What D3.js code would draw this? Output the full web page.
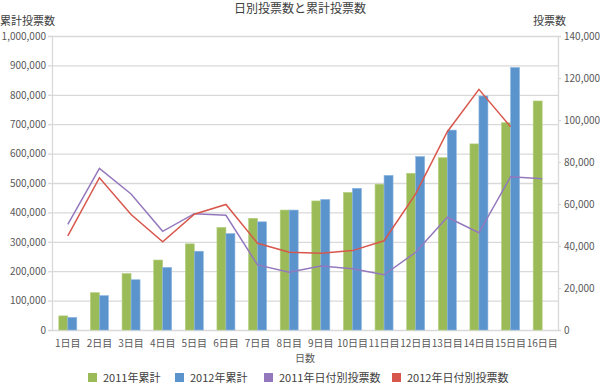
<!DOCTYPE html>
<html>
<head>
<meta charset="utf-8">
<script src="https://cdn.jsdelivr.net/npm/d3@7"></script>
<style>
body { margin: 0; background: #fff; }
text { font-family: "Noto Sans CJK JP", "Noto Sans", sans-serif; fill: #595959; }
</style>
</head>
<body>
<div id="chart"></div>
<script>
var days = ['1日目','2日目','3日目','4日目','5日目','6日目','7日目','8日目','9日目','10日目','11日目','12日目','13日目','14日目','15日目','16日目']
var total2011 = [48000,127000,192000,238000,293000,349000,380000,408000,439000,468000,496000,533000,586000,633000,705000,779000]
var total2012 = [43000,117000,171000,213000,268000,328000,368000,408000,444000,482000,526000,590000,680000,796000,893000,null]
var daily2011 = [50300,77000,64800,47000,55400,54600,31000,27500,30500,29200,26300,37000,53700,46300,73000,72000]
var daily2012 = [44800,72500,55000,42000,55100,59800,41300,37000,36500,37800,42500,64800,94400,114600,96800,null]
var leftTicks = [0,100000,200000,300000,400000,500000,600000,700000,800000,900000,1000000]
var rightTicks = [0,20000,40000,60000,80000,100000,120000,140000]
var legendNames = ['2011年累計','2012年累計','2011年日付別投票数','2012年日付別投票数']

var colors = { g: '#9bbb59', b: '#5b94cd', p: '#9478bd', r: '#d8574d' }
var margin = { top: 36, right: 42, bottom: 55, left: 52 }
var width = 600, height = 385
var w = width - margin.left - margin.right
var h = height - margin.top - margin.bottom

var fmt = d3.format(',')

var svg = d3.select('#chart').append('svg')
    .attr('width', width)
    .attr('height', height)

var x = d3.scaleBand().domain(days).range([0, w])
var yL = d3.scaleLinear().domain([0, 1000000]).range([h, 0])
var yR = d3.scaleLinear().domain([0, 140000]).range([h, 0])

var g = svg.append('g').attr('transform', 'translate(' + margin.left + ',' + margin.top + ')')

// grid
g.selectAll('.grid').data(leftTicks.slice(1))
    .enter().append('line')
    .attr('x1', 0).attr('x2', w)
    .attr('y1', function(d){ return yL(d) + .5 })
    .attr('y2', function(d){ return yL(d) + .5 })
    .attr('stroke', '#d9d9d9').attr('stroke-width', 1.3)

// left axis
var leftAxis = g.append('g')
    .call(d3.axisLeft(yL).tickValues(leftTicks).tickFormat(fmt).tickSize(4).tickPadding(2))
leftAxis.selectAll('text').style('font-size', '10px')
leftAxis.selectAll('line, path').attr('stroke', '#d9d9d9').attr('stroke-width', 1.3)

// right axis
var rightAxis = g.append('g')
    .attr('transform', 'translate(' + w + ',0)')
    .call(d3.axisRight(yR).tickValues(rightTicks).tickFormat(fmt).tickSize(3).tickPadding(3))
rightAxis.selectAll('text').style('font-size', '10px')
rightAxis.selectAll('line, path').attr('stroke', '#d9d9d9').attr('stroke-width', 1.3)

// bottom labels
var bottomAxis = g.append('g')
    .attr('transform', 'translate(0,' + h + ')')
    .call(d3.axisBottom(x).tickSize(0).tickPadding(10))
bottomAxis.select('.domain').attr('stroke', '#d9d9d9').attr('stroke-width', 1.3)
bottomAxis.selectAll('text').style('font-size', '10px')

// bars
var bw = 9
g.selectAll('.bar11').data(total2011)
    .enter().append('rect')
    .attr('x', function(d, i){ return x(days[i]) + x.bandwidth()/2 - bw })
    .attr('y', function(d){ return yL(d) })
    .attr('width', bw)
    .attr('height', function(d){ return h - yL(d) })
    .attr('fill', colors.g)
    .attr('stroke', '#b6d07f').attr('stroke-width', .6)

g.selectAll('.bar12').data(total2012.filter(function(d){ return d != null }))
    .enter().append('rect')
    .attr('x', function(d, i){ return x(days[i]) + x.bandwidth()/2 })
    .attr('y', function(d){ return yL(d) })
    .attr('width', bw)
    .attr('height', function(d){ return h - yL(d) })
    .attr('fill', colors.b)
    .attr('stroke', '#8fb8e2').attr('stroke-width', .6)

// lines
var line = d3.line()
    .defined(function(d){ return d != null })
    .x(function(d, i){ return x(days[i]) + x.bandwidth()/2 })
    .y(function(d){ return yR(d) })

g.append('path').datum(daily2011)
    .attr('d', line).attr('fill', 'none')
    .attr('stroke', colors.p).attr('stroke-width', 1.5)

g.append('path').datum(daily2012)
    .attr('d', line).attr('fill', 'none')
    .attr('stroke', colors.r).attr('stroke-width', 1.5)

// titles
svg.append('text').attr('x', 300).attr('y', 13)
    .attr('text-anchor', 'middle').style('font-size', '12px').style('fill', '#404040')
    .text('日別投票数と累計投票数')
svg.append('text').attr('x', 0).attr('y', 25)
    .style('font-size', '11px').style('fill', '#404040')
    .text('累計投票数')
svg.append('text').attr('x', 533).attr('y', 25)
    .style('font-size', '11px').style('fill', '#404040')
    .text('投票数')
svg.append('text').attr('x', margin.left + w/2).attr('y', 362)
    .attr('text-anchor', 'middle').style('font-size', '10px')
    .text('日数')

// legend
var legendX = [88, 175, 264, 392]
var legendCol = [colors.g, colors.b, colors.p, colors.r]
var leg = svg.selectAll('.legend').data(legendNames)
    .enter().append('g')
    .attr('transform', function(d, i){ return 'translate(' + legendX[i] + ',373)' })
leg.append('rect').attr('width', 9).attr('height', 9)
    .attr('fill', function(d, i){ return legendCol[i] })
leg.append('text').attr('x', 15).attr('y', 9)
    .style('font-size', '11px').style('fill', '#404040')
    .text(function(d){ return d })
</script>
</body>
</html>
